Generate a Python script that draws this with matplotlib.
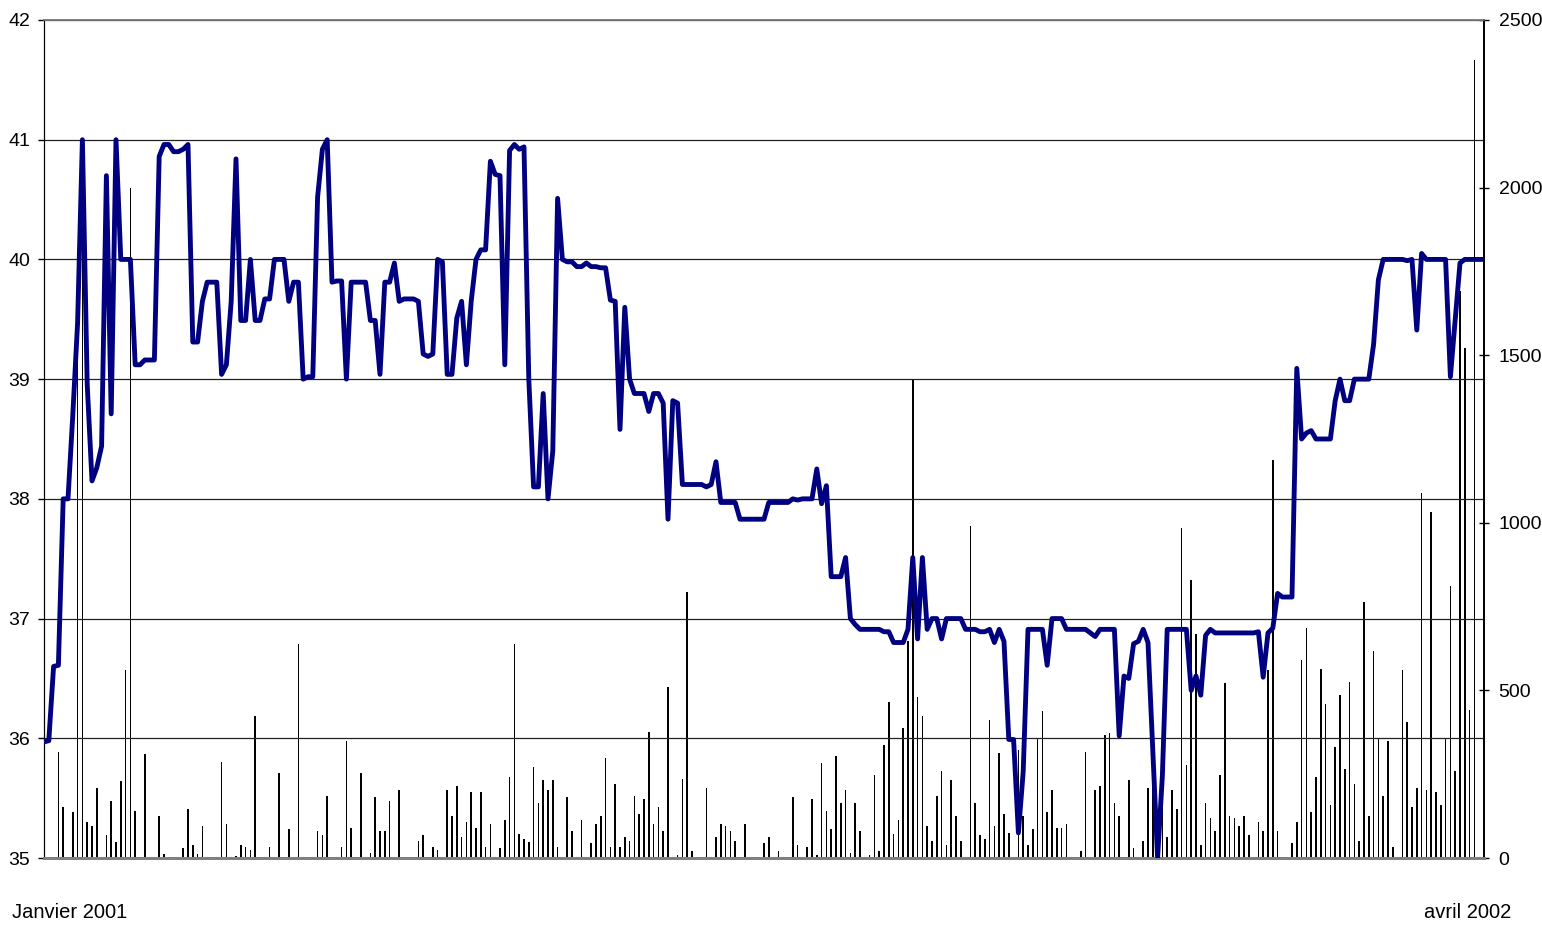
import matplotlib as mpl
mpl.use('Agg')
import matplotlib.pyplot as plt

plt.rcParams['font.family'] = ['Liberation Sans', 'DejaVu Sans']

# cours de cloture (axe de gauche), une valeur par seance
prices = [
    35.97, 35.98, 36.60, 36.61, 38.00, 38.00, 38.70, 39.47, 41.00, 38.96,
    38.15, 38.26, 38.44, 40.70, 38.71, 41.00, 40.00, 40.00, 40.00, 39.12,
    39.12, 39.16, 39.16, 39.16, 40.86, 40.96, 40.96, 40.90, 40.90, 40.92,
    40.96, 39.31, 39.31, 39.65, 39.81, 39.81, 39.81, 39.04, 39.12, 39.65,
    40.84, 39.49, 39.49, 40.00, 39.49, 39.49, 39.67, 39.67, 40.00, 40.00,
    40.00, 39.65, 39.81, 39.81, 39.00, 39.02, 39.02, 40.52, 40.92, 41.00,
    39.81, 39.82, 39.82, 39.00, 39.81, 39.81, 39.81, 39.81, 39.49, 39.49,
    39.04, 39.81, 39.81, 39.97, 39.65, 39.67, 39.67, 39.67, 39.65, 39.21,
    39.19, 39.21, 40.00, 39.98, 39.04, 39.04, 39.51, 39.65, 39.12, 39.65,
    40.00, 40.08, 40.08, 40.82, 40.71, 40.70, 39.12, 40.91, 40.96, 40.92,
    40.94, 39.00, 38.10, 38.10, 38.88, 38.00, 38.40, 40.51, 40.00, 39.98,
    39.98, 39.94, 39.94, 39.97, 39.94, 39.94, 39.93, 39.93, 39.66, 39.65,
    38.58, 39.60, 39.00, 38.88, 38.88, 38.88, 38.73, 38.88, 38.88, 38.80,
    37.83, 38.82, 38.80, 38.12, 38.12, 38.12, 38.12, 38.12, 38.10, 38.12,
    38.31, 37.97, 37.97, 37.97, 37.97, 37.83, 37.83, 37.83, 37.83, 37.83,
    37.83, 37.97, 37.97, 37.97, 37.97, 37.97, 38.00, 37.99, 38.00, 38.00,
    38.00, 38.25, 37.96, 38.11, 37.35, 37.35, 37.35, 37.51, 37.00, 36.95,
    36.91, 36.91, 36.91, 36.91, 36.91, 36.89, 36.89, 36.80, 36.80, 36.80,
    36.91, 37.51, 36.83, 37.51, 36.91, 37.00, 37.00, 36.83, 37.00, 37.00,
    37.00, 37.00, 36.91, 36.91, 36.91, 36.89, 36.89, 36.91, 36.80, 36.91,
    36.81, 35.99, 35.99, 35.21, 35.72, 36.91, 36.91, 36.91, 36.91, 36.61,
    37.00, 37.00, 37.00, 36.91, 36.91, 36.91, 36.91, 36.91, 36.88, 36.85,
    36.91, 36.91, 36.91, 36.91, 36.02, 36.52, 36.50, 36.79, 36.81, 36.91,
    36.80, 35.90, 35.00, 35.69, 36.91, 36.91, 36.91, 36.91, 36.91, 36.40,
    36.52, 36.36, 36.86, 36.91, 36.88, 36.88, 36.88, 36.88, 36.88, 36.88,
    36.88, 36.88, 36.88, 36.89, 36.51, 36.88, 36.92, 37.21, 37.18, 37.18,
    37.18, 39.09, 38.50, 38.55, 38.57, 38.50, 38.50, 38.50, 38.50, 38.82,
    39.00, 38.82, 38.82, 39.00, 39.00, 39.00, 39.00, 39.29, 39.83, 40.00,
    40.00, 40.00, 40.00, 40.00, 39.99, 40.00, 39.41, 40.05, 40.00, 40.00,
    40.00, 40.00, 40.00, 39.02, 39.50, 39.97, 40.00, 40.00, 40.00, 40.00,
    40.00,
]

# volumes echanges (axe de droite)
volumes = [
    16, 0, 0, 316, 151, 0, 136, 1511, 1940, 108,
    96, 209, 0, 68, 171, 49, 231, 560, 2000, 140,
    0, 311, 0, 0, 125, 11, 0, 0, 0, 29,
    146, 38, 11, 95, 0, 0, 0, 287, 101, 0,
    6, 38, 34, 23, 424, 0, 0, 34, 0, 254,
    0, 86, 0, 638, 0, 0, 0, 80, 69, 185,
    4, 0, 34, 350, 89, 0, 254, 0, 16, 181,
    80, 80, 170, 0, 203, 0, 0, 0, 50, 68,
    0, 34, 23, 0, 203, 125, 215, 62, 107, 198,
    89, 198, 34, 101, 0, 29, 113, 242, 638, 73,
    56, 49, 271, 164, 232, 203, 232, 34, 0, 181,
    80, 0, 113, 0, 44, 101, 125, 299, 34, 221,
    34, 62, 50, 185, 130, 175, 377, 101, 152, 80,
    509, 0, 10, 236, 794, 22, 0, 0, 209, 0,
    62, 101, 95, 80, 50, 0, 101, 0, 0, 0,
    44, 62, 0, 22, 0, 0, 181, 38, 0, 34,
    175, 10, 282, 141, 86, 305, 165, 203, 16, 164,
    80, 0, 10, 248, 22, 338, 464, 73, 113, 389,
    648, 1430, 479, 424, 95, 50, 185, 260, 38, 232,
    125, 50, 0, 991, 164, 68, 56, 413, 95, 312,
    130, 74, 0, 323, 125, 38, 86, 355, 440, 136,
    203, 89, 89, 101, 0, 0, 22, 316, 0, 203,
    215, 368, 373, 164, 125, 0, 232, 29, 0, 50,
    209, 248, 68, 214, 62, 203, 146, 985, 277, 830,
    668, 38, 164, 119, 80, 248, 521, 125, 119, 95,
    125, 68, 0, 107, 80, 560, 1186, 80, 0, 0,
    44, 107, 590, 686, 136, 242, 565, 458, 158, 332,
    485, 266, 524, 221, 50, 765, 125, 619, 356, 185,
    350, 34, 0, 560, 407, 152, 209, 1089, 203, 1032,
    197, 158, 356, 812, 260, 1693, 1522, 441, 2382, 0,
    895,
]

price_ticks = [35, 36, 37, 38, 39, 40, 41, 42]
volume_ticks = [0, 500, 1000, 1500, 2000, 2500]
start_label = 'Janvier 2001'
end_label = 'avril 2002'

days = list(range(len(prices)))

fig = plt.figure(figsize=(15.42, 9.25), dpi=100)
ax = fig.add_axes([0.02853, 0.07243, 0.93385, 0.90595])
ax2 = ax.twinx()

# volumes en barres fines, sous la courbe
ax2.bar(days, volumes, width=0.3, color='black', linewidth=0, antialiased=False)
ax2.set_ylim(0, 2500)
ax2.set_yticks(volume_ticks)
ax2.tick_params(axis='y', direction='inout', length=7, width=1, pad=7, labelsize=14)

# courbe du cours
ax.plot(days, prices, color='#000080', linewidth=3.5, solid_joinstyle='round', zorder=3)
ax.set_ylim(35, 42)
ax.set_yticks(price_ticks)
ax.tick_params(axis='y', direction='out', length=4, width=1, pad=6, labelsize=14)
ax.set_xlim(0, len(prices) - 1)
ax.set_xticks([])
ax.yaxis.grid(True, color='#222222', linewidth=0.9)
ax.set_axisbelow(True)

# la courbe passe devant les barres
ax.set_zorder(ax2.get_zorder() + 1)
ax.patch.set_visible(False)

for a in (ax, ax2):
    a.spines['top'].set_color('#808080')
    a.spines['top'].set_linewidth(1.2)
    a.spines['bottom'].set_color('#808080')
    a.spines['bottom'].set_linewidth(2.0)
    a.spines['left'].set_color('black')
    a.spines['right'].set_color('black')
    a.spines['right'].set_linewidth(1.3)

fig.text(12 / 1542, 1 - 913 / 925, start_label, ha='left', va='center', fontsize=14.5)
fig.text(1511 / 1542, 1 - 913 / 925, end_label, ha='right', va='center', fontsize=14.5)

fig.savefig('out.png', dpi=100)
